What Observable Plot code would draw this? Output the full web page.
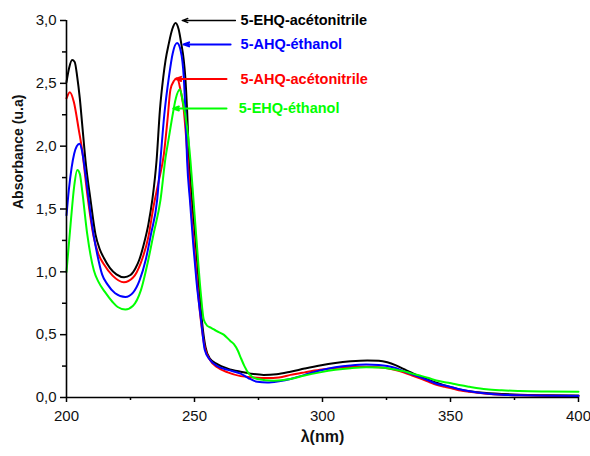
<!DOCTYPE html>
<html><head><meta charset="utf-8">
<script src="https://cdn.jsdelivr.net/npm/d3@7"></script>
<script src="https://cdn.jsdelivr.net/npm/@observablehq/plot@0.6"></script>
<style>body{margin:0;background:#fff}</style>
</head><body><div id="chart"></div>
<script>
// 5-EHQ-acétonitrile (black)
const ehqAcnWl = [200, 201, 202.2, 203.2, 204.2, 205.2, 206.1, 207.4, 209.4, 211.3, 213, 214.6, 217, 219.5, 222.5, 225, 227, 228.5, 230.2, 232, 233.5, 235.2, 236.5, 237.8, 238.7, 240, 241.3, 242.6, 243.8, 244.8, 245.8, 246.4, 247.1, 247.9, 249, 250.4, 251.7, 252.9, 254.3, 256, 258.9, 263, 268, 272, 277, 282, 287.5, 293, 299, 305, 311, 317.5, 322, 325.3, 328.5, 331.6, 335, 338.3, 341.5, 344.5, 347.7, 351, 354, 357.4, 364, 370, 377, 388, 400];
const ehqAcnAbs = [2.51, 2.62, 2.685, 2.67, 2.55, 2.38, 2.18, 1.89, 1.57, 1.30, 1.18, 1.11, 1.03, 0.98, 0.957, 0.975, 1.03, 1.10, 1.22, 1.38, 1.57, 1.89, 2.29, 2.55, 2.685, 2.82, 2.93, 2.98, 2.93, 2.82, 2.685, 2.55, 2.29, 1.89, 1.57, 1.25, 0.9, 0.61, 0.40, 0.31, 0.265, 0.23, 0.205, 0.19, 0.18, 0.185, 0.205, 0.23, 0.255, 0.275, 0.288, 0.295, 0.292, 0.28, 0.258, 0.228, 0.195, 0.165, 0.14, 0.117, 0.095, 0.077, 0.062, 0.05, 0.035, 0.028, 0.022, 0.018, 0.015];

// 5-AHQ-éthanol (blue)
const ahqEtWl = [200, 200.9, 202, 203, 204, 205.1, 206.1, 207.4, 209.4, 210.7, 212, 213.9, 216, 219, 223, 226, 228.5, 231, 233, 235.4, 236.7, 238.2, 240, 241.5, 243.2, 244.6, 245.8, 246.5, 247.1, 248.3, 249.5, 250.8, 252.6, 254, 256, 258.9, 263, 268, 271, 274.5, 278.4, 283, 287.5, 293, 299, 305, 311, 317, 322, 325.3, 328.5, 331.6, 335, 338.3, 341.5, 344.5, 347.7, 351, 354, 357.4, 364, 370, 377, 388, 400];
const ahqEtAbs = [1.45, 1.65, 1.83, 1.94, 2.0, 2.02, 1.96, 1.78, 1.46, 1.28, 1.14, 0.98, 0.90, 0.83, 0.80, 0.835, 0.93, 1.10, 1.30, 1.57, 1.89, 2.25, 2.55, 2.74, 2.82, 2.76, 2.55, 2.25, 1.89, 1.55, 1.22, 0.92, 0.61, 0.38, 0.30, 0.25, 0.22, 0.19, 0.155, 0.125, 0.12, 0.13, 0.147, 0.18, 0.215, 0.24, 0.255, 0.262, 0.258, 0.25, 0.235, 0.21, 0.185, 0.16, 0.135, 0.11, 0.095, 0.08, 0.063, 0.05, 0.032, 0.022, 0.017, 0.013, 0.012];

// 5-AHQ-acétonitrile (red)
const ahqAcnWl = [200, 201.3, 202.9, 204.8, 206.1, 208.1, 210.7, 212.5, 214.6, 218, 222.4, 226, 229, 232, 234, 236, 238, 239.5, 240.6, 242, 243.2, 244.5, 245.8, 246.8, 247.5, 248.5, 249.7, 251, 252.5, 254, 256, 258.9, 263, 268, 273, 278.4, 283, 287.5, 293, 299, 305, 311, 317, 322, 325.3, 328.5, 331.6, 335, 338.3, 341.5, 344.5, 347.7, 351, 354, 357.4, 364, 370, 377, 388, 400];
const ahqAcnAbs = [2.38, 2.43, 2.35, 2.13, 1.97, 1.62, 1.27, 1.14, 1.06, 0.97, 0.917, 0.955, 1.07, 1.28, 1.52, 1.72, 1.93, 2.22, 2.45, 2.52, 2.54, 2.45, 2.29, 2.05, 1.85, 1.55, 1.25, 0.92, 0.61, 0.40, 0.30, 0.24, 0.20, 0.17, 0.16, 0.155, 0.16, 0.18, 0.20, 0.22, 0.235, 0.243, 0.245, 0.24, 0.232, 0.218, 0.2, 0.175, 0.15, 0.125, 0.102, 0.085, 0.07, 0.055, 0.045, 0.03, 0.022, 0.017, 0.013, 0.012];

// 5-EHQ-éthanol (green)
const ehqEtWl = [200, 201.6, 203, 204.2, 205.2, 206.1, 208.1, 210.7, 212.5, 215, 218, 220, 223, 226, 229, 232, 234, 236.7, 238.7, 240, 241.3, 242.7, 244.3, 245.5, 247.1, 248.4, 249.5, 250.8, 252.5, 253.6, 255, 256.5, 258.5, 261.4, 264, 265.4, 267, 268, 269.5, 271.2, 274.5, 281, 287.5, 293, 299, 305, 311, 317, 322, 325.3, 328.5, 331.6, 335, 338.3, 341.5, 344.5, 347.7, 351, 354, 357.4, 364, 370, 377, 388, 400];
const ehqEtAbs = [1.0, 1.38, 1.68, 1.81, 1.78, 1.65, 1.30, 1.01, 0.92, 0.84, 0.76, 0.72, 0.70, 0.73, 0.85, 1.10, 1.30, 1.57, 1.91, 2.07, 2.23, 2.38, 2.45, 2.35, 2.15, 1.89, 1.6, 1.25, 0.82, 0.62, 0.57, 0.555, 0.53, 0.50, 0.45, 0.425, 0.37, 0.32, 0.25, 0.19, 0.147, 0.133, 0.147, 0.175, 0.20, 0.22, 0.233, 0.24, 0.238, 0.233, 0.222, 0.21, 0.19, 0.173, 0.155, 0.135, 0.122, 0.11, 0.097, 0.085, 0.065, 0.057, 0.052, 0.048, 0.045];

// annotations
const seriesLabels = ["5-EHQ-acétonitrile", "5-AHQ-éthanol", "5-AHQ-acétonitrile", "5-EHQ-éthanol"];
const seriesColors = ["#000000", "#0000ff", "#ff0000", "#00ff00"];
const arrowHeadX = [245.2, 245.7, 242.6, 241.7];
const arrowTailX = [266, 264.1, 262.5, 262.5];
const arrowY = [3.0, 2.81, 2.535, 2.30];
const labelX = [268, 268, 268, 267.3];

// ticks
const xMajorTicks = [200, 250, 300, 350, 400];
const xMinorTicks = [225, 275, 325, 375];
const yMajorTicks = [0, 0.5, 1.0, 1.5, 2.0, 2.5, 3.0];
const yMinorTicks = [0.25, 0.75, 1.25, 1.75, 2.25, 2.75];

const seriesData = [
  [ehqAcnWl, ehqAcnAbs],
  [ahqEtWl, ahqEtAbs],
  [ahqAcnWl, ahqAcnAbs],
  [ehqEtWl, ehqEtAbs]
];
const rows = [];
seriesData.forEach(([wl, ab], i) => wl.forEach((w, j) => rows.push({series: seriesLabels[i], wl: w, abs: ab[j]})));
const drawOrder = [0, 2, 1, 3];
const ann = seriesLabels.map((s, i) => ({label: s, color: seriesColors[i], hx: arrowHeadX[i], tx: arrowTailX[i], y: arrowY[i], lx: labelX[i]}));

const fmtComma = d => d.toFixed(1).replace(".", ",");
const font = "'Liberation Sans', Arial, sans-serif";

const chart = Plot.plot({
  width: 590, height: 456,
  marginTop: 20, marginRight: 12, marginBottom: 59, marginLeft: 66,
  style: {fontFamily: font, fontSize: "15px", color: "#111", background: "#fff", overflow: "visible"},
  x: {domain: [200, 400], axis: null},
  y: {domain: [0, 3], axis: null},
  marks: [
    ...drawOrder.map(i => Plot.line(rows.filter(r => r.series === seriesLabels[i]), {
      x: "wl", y: "abs", stroke: seriesColors[i], strokeWidth: 2, curve: "monotone-x"
    })),
    Plot.axisX(xMajorTicks, {tickSize: 5, tickPadding: 8, tickFormat: d => String(d), fontSize: 15, stroke: "#000", strokeWidth: 1.5, label: null}),
    Plot.axisX(xMinorTicks, {tickSize: 3, tickFormat: () => "", stroke: "#000", strokeWidth: 1.5, label: null}),
    Plot.axisY(yMajorTicks, {tickSize: 6, tickPadding: 4, tickFormat: fmtComma, fontSize: 15, stroke: "#000", strokeWidth: 1.5, label: null}),
    Plot.axisY(yMinorTicks, {tickSize: 4, tickFormat: () => "", stroke: "#000", strokeWidth: 1.5, label: null}),
    Plot.ruleX([200], {y1: 0, y2: 3, stroke: "#000", strokeWidth: 1.6}),
    Plot.ruleY([0], {x1: 200, x2: 400, stroke: "#000", strokeWidth: 1.6}),
    Plot.arrow(ann, {x1: "tx", x2: "hx", y1: "y", y2: "y", stroke: "color", strokeWidth: (d, i) => i === 0 ? 1.3 : 2, headLength: 9, headAngle: 40}),
    Plot.text(ann, {x: "lx", y: "y", text: "label", fill: "color", textAnchor: "start", lineAnchor: "middle", fontWeight: "bold", fontSize: 14.5}),
    Plot.text(["Absorbance (u.a)"], {frameAnchor: "left", dx: -48, rotate: -90, fontWeight: "bold", fontSize: 14, fill: "#111"}),
    Plot.text(["λ(nm)"], {frameAnchor: "bottom", dy: 44, fontWeight: "bold", fontSize: 16, fill: "#111"})
  ]
});
document.getElementById("chart").appendChild(chart);
</script>
</body></html>
